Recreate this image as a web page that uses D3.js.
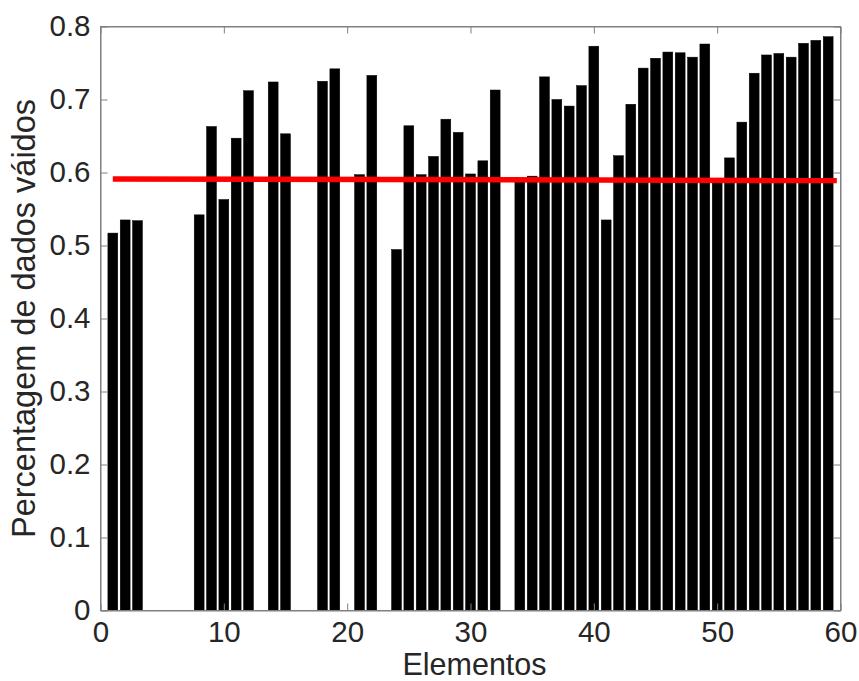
<!DOCTYPE html>
<html><head><meta charset="utf-8">
<script src="https://cdn.jsdelivr.net/npm/d3@7"></script>
<style>body{margin:0;background:#fff}svg{display:block}text{font-family:"Liberation Sans",Arial,Helvetica,sans-serif}</style>
</head><body>
<script>
const elementos = [1,2,3,8,9,10,11,12,14,15,18,19,21,22,24,25,26,27,28,29,30,31,32,34,35,36,37,38,39,40,41,42,43,44,45,46,47,48,49,50,51,52,53,54,55,56,57,58,59];
const valores = [0.517,0.535,0.534,0.542,0.663,0.563,0.647,0.712,0.724,0.653,0.725,0.742,0.597,0.733,0.4945,0.664,0.597,0.622,0.673,0.655,0.598,0.616,0.713,0.589,0.595,0.731,0.700,0.691,0.719,0.773,0.535,0.623,0.6935,0.743,0.7565,0.765,0.764,0.758,0.776,0.589,0.620,0.669,0.736,0.761,0.763,0.758,0.777,0.781,0.786];
const mediaX = [1, 59.7];
const mediaY = [0.591, 0.589];
const xTicks = [0,10,20,30,40,50,60];
const yTicks = [0,0.1,0.2,0.3,0.4,0.5,0.6,0.7,0.8];

const W=859,H=681;
const m={l:100.5,r:18.5,t:26.5,b:70.5};
const svg=d3.select("body").append("svg").attr("width",W).attr("height",H);
const x=d3.scaleLinear().domain([0,60]).range([m.l,W-m.r]);
const y=d3.scaleLinear().domain([0,0.8]).range([H-m.b,m.t]);
const bw=(x(0.8)-x(0));

svg.append("g").selectAll("rect").data(elementos).join("rect")
  .attr("x",(d)=>x(d)-bw/2).attr("width",bw)
  .attr("y",(d,i)=>y(valores[i])).attr("height",(d,i)=>y(0)-y(valores[i]))
  .attr("fill","#000").attr("stroke","#000").attr("stroke-width",0.5);

svg.append("path").datum(mediaX.map((d,i)=>[d,mediaY[i]]))
  .attr("d",d3.line().x(d=>x(d[0])).y(d=>y(d[1])))
  .attr("stroke","#ff0000").attr("stroke-width",5.5).attr("fill","none");

const axCol="#808080";
svg.append("rect").attr("x",x(0)).attr("y",y(0.8)).attr("width",x(60)-x(0)).attr("height",y(0)-y(0.8))
  .attr("fill","none").attr("stroke",axCol).attr("stroke-width",1);

const xa=svg.append("g").attr("transform",`translate(0,${y(0)})`)
  .call(d3.axisBottom(x).tickValues(xTicks).tickFormat(d3.format("d")).tickSizeInner(-7).tickSizeOuter(0).tickPadding(10));
const xt=svg.append("g").attr("transform",`translate(0,${y(0.8)})`)
  .call(d3.axisTop(x).tickValues(xTicks).tickFormat("").tickSizeInner(-7).tickSizeOuter(0));
const ya=svg.append("g").attr("transform",`translate(${x(0)},0)`)
  .call(d3.axisLeft(y).tickValues(yTicks).tickFormat(d=>d===0?"0":d3.format(".1f")(d)).tickSizeInner(-7).tickSizeOuter(0).tickPadding(10));
const yr=svg.append("g").attr("transform",`translate(${x(60)},0)`)
  .call(d3.axisRight(y).tickValues(yTicks).tickFormat("").tickSizeInner(-7).tickSizeOuter(0));
[xa,xt,ya,yr].forEach(g=>{g.select(".domain").attr("stroke",axCol);g.selectAll(".tick line").attr("stroke",axCol);
  g.selectAll("text").attr("fill","#262626").style("font-size","29.5px").style("font-family","'Liberation Sans',Arial,sans-serif");});
xa.selectAll("text").attr("dy","0.72em");

svg.append("text").attr("x",(x(0)+x(60))/2+4).attr("y",674.5).attr("text-anchor","middle")
  .attr("fill","#262626").style("font-size","30.5px").text("Elementos");
svg.append("text").attr("transform",`translate(35,${(y(0)+y(0.8))/2}) rotate(-90)`).attr("text-anchor","middle")
  .attr("fill","#262626").style("font-size","32.5px").text("Percentagem de dados váidos");
</script>
</body></html>
